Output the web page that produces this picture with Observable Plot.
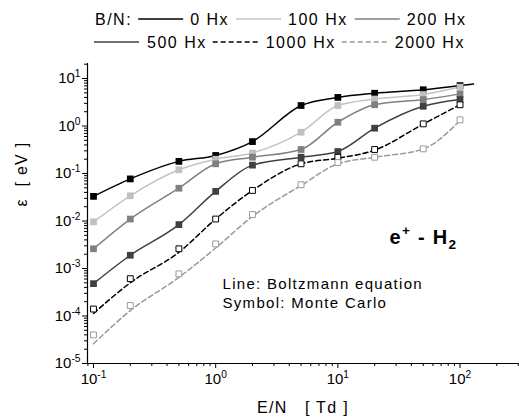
<!DOCTYPE html>
<html><head><meta charset="utf-8">
<script src="https://cdn.jsdelivr.net/npm/d3@7"></script>
<script src="https://cdn.jsdelivr.net/npm/@observablehq/plot@0.6"></script>
<style>
body{margin:0;background:#fff;font-family:"Liberation Sans",Arial,sans-serif;}
#legend{display:block}
#chart svg{display:block}
#legend text{font-size:16px;letter-spacing:1.5px;fill:#000}
</style></head><body>
<svg id="legend" width="519" height="58"></svg>
<div id="chart"></div>
<script>
// ---------- data ----------
const EN = [0.1, 0.2, 0.5, 1, 2, 5, 10, 20, 50, 100];
const seriesNames = ["0 Hx", "100 Hx", "200 Hx", "500 Hx", "1000 Hx", "2000 Hx"];
const legendTitle = "B/N:";

// Monte Carlo (symbols), mean energy in eV
const mc0    = [0.033, 0.077, 0.18, 0.24, 0.47, 2.7, 4.0, 4.9, 5.8, 7.1];
const mc100  = [0.0096, 0.034, 0.12, 0.20, 0.27, 0.74, 2.7, 3.7, 4.6, 6.6];
const mc200  = [0.0026, 0.011, 0.049, 0.16, 0.22, 0.32, 1.2, 2.8, 3.6, 4.75];
const mc500  = [0.00048, 0.0019, 0.0084, 0.042, 0.15, 0.22, 0.29, 0.90, 2.6, 3.6];
const mc1000 = [1.4e-4, 6.1e-4, 0.0026, 0.011, 0.044, 0.16, 0.22, 0.32, 1.11, 2.8];
const mc2000 = [4.0e-5, 1.66e-4, 7.7e-4, 0.0033, 0.0137, 0.058, 0.17, 0.22, 0.33, 1.35];

// Boltzmann equation (lines)
const beEN0  = [0.1, 0.2, 0.5, 1, 2, 5, 10, 20, 50, 100, 129];
const be0    = [0.033, 0.077, 0.18, 0.24, 0.47, 2.7, 4.0, 4.9, 5.8, 7.1, 7.7];
const be100  = [0.0096, 0.034, 0.12, 0.20, 0.27, 0.74, 2.7, 3.7, 4.6, 6.6];
const be200  = [0.0026, 0.011, 0.049, 0.16, 0.22, 0.32, 1.2, 2.8, 3.6, 4.75];
const be500  = [0.00048, 0.0019, 0.0084, 0.042, 0.15, 0.22, 0.29, 0.90, 2.6, 3.6];
const be1000 = [1.13e-4, 5.0e-4, 0.0022, 0.011, 0.044, 0.16, 0.21, 0.31, 1.1, 2.8];
const be2000 = [2.6e-5, 1.3e-4, 6.5e-4, 0.0027, 0.0125, 0.056, 0.16, 0.22, 0.33, 1.3];

const xTickValues = [0.1, 1, 10, 100];
const yTickValues = [1e-5, 1e-4, 1e-3, 1e-2, 1e-1, 1, 10];
const xLabel = "E/N\u00a0\u00a0\u00a0[ Td ]";
const yLabel = "\u03b5\u00a0\u00a0[ eV ]";
const noteLine = "Line: Boltzmann equation";
const noteSymbol = "Symbol: Monte Carlo";
const systemLabel = "e^{+} - H_{2}";

// ---------- styles ----------
const styles = [
  {stroke: "#000000", dash: null, fill: "#000000", open: false},
  {stroke: "#c4c4c4", dash: null, fill: "#c0c0c0", open: false},
  {stroke: "#808080", dash: null, fill: "#808080", open: false},
  {stroke: "#404040", dash: null, fill: "#404040", open: false},
  {stroke: "#000000", dash: "5,3", fill: "#ffffff", open: true},
  {stroke: "#9a9a9a", dash: "5,3", fill: "#ffffff", open: true}
];

// ---------- tables ----------
const mcSeries = [mc0, mc100, mc200, mc500, mc1000, mc2000];
const beSeries = [be0, be100, be200, be500, be1000, be2000];
const beXs = [beEN0, EN, EN, EN, EN, EN];
const lineTables = beSeries.map((ys, i) => ys.map((y, j) => ({series: seriesNames[i], x: beXs[i][j], y})));
const dotTables = mcSeries.map((ys, i) => ys.map((y, j) => ({series: seriesNames[i], x: EN[j], y})));

const xDomain = [0.0893, 301];
const yDomain = [1e-5, 20.7];
const minor = (decades, lo, hi) => decades.flatMap(d => [2,3,4,5,6,7,8,9].map(k => d * k)).filter(v => v >= lo && v <= hi);
const xMinor = minor([0.01, 0.1, 1, 10, 100], xDomain[0], xDomain[1]);
const yMinor = minor([1e-5, 1e-4, 1e-3, 1e-2, 1e-1, 1, 10], yDomain[0], yDomain[1]);
const expFmt = d => "10^{" + Math.round(Math.log10(d)) + "}";

const marks = [
  Plot.axisX(xMinor, {tickSize: 3, tickFormat: () => "", label: null}),
  Plot.axisX(xTickValues, {tickSize: 5, tickPadding: 5, tickFormat: expFmt, label: null, fontSize: 15}),
  Plot.axisY(yMinor, {tickSize: 3, tickFormat: () => "", label: null}),
  Plot.axisY(yTickValues, {tickSize: 5, tickPadding: 2, tickFormat: expFmt, label: null, fontSize: 15}),
  Plot.ruleX([xDomain[0]], {stroke: "#000", strokeWidth: 1.2}),
  Plot.ruleY([yDomain[0]], {stroke: "#000", strokeWidth: 1.2}),
  ...lineTables.map((t, i) => Plot.line(t, {x: "x", y: "y", stroke: styles[i].stroke, strokeWidth: 1.5,
      strokeDasharray: styles[i].dash, curve: "monotone-x"})),
  ...dotTables.map((t, i) => Plot.dot(t, {x: "x", y: "y", symbol: "square",
      r: styles[i].open ? 3.3 : 3.8,
      fill: styles[i].fill, stroke: styles[i].open ? styles[i].stroke : "none", strokeWidth: 1})),
  Plot.text([xLabel], {frameAnchor: "bottom", dy: 49, fontSize: 16, fill: "#000"}),
  Plot.text([yLabel], {frameAnchor: "left", dx: -66, dy: -7, rotate: -90, fontSize: 16, fill: "#000"}),
  Plot.text([noteLine], {frameAnchor: "top-left", textAnchor: "start", dx: 135, dy: 215, fontSize: 15, fill: "#000"}),
  Plot.text([noteSymbol], {frameAnchor: "top-left", textAnchor: "start", dx: 135, dy: 234, fontSize: 15, fill: "#000"}),
  Plot.text([systemLabel], {frameAnchor: "top-left", textAnchor: "start", dx: 302, dy: 166, fontSize: 20, fontWeight: "bold", fill: "#000"})
];

const plot = Plot.plot({
  width: 519, height: 361,
  marginLeft: 87, marginRight: 1, marginTop: 5, marginBottom: 56,
  x: {type: "log", domain: xDomain},
  y: {type: "log", domain: yDomain},
  style: {fontFamily: "'Liberation Sans', Arial, sans-serif", fontSize: "15px", color: "#000", background: "#fff", overflow: "visible"},
  marks
});
document.getElementById("chart").appendChild(plot);

// rich text: ^{..} superscripts, _{..} subscripts
function richify(el) {
  const t = el.textContent;
  if (!/[\^_]\{/.test(t)) return;
  const base = parseFloat(getComputedStyle(el).fontSize) || 15;
  const parts = t.split(/([\^_]\{[^}]*\})/).filter(s => s.length);
  el.textContent = "";
  let shift = 0;
  for (const p of parts) {
    const m = p.match(/^([\^_])\{(.*)\}$/);
    const ts = document.createElementNS("http://www.w3.org/2000/svg", "tspan");
    let target = 0;
    if (m) {
      ts.textContent = m[2];
      ts.setAttribute("font-size", (base * 0.68).toFixed(1));
      target = m[1] === "^" ? -base * 0.42 : base * 0.25;
    } else {
      ts.textContent = p;
    }
    ts.setAttribute("dy", (target - shift).toFixed(1));
    shift = target;
    el.appendChild(ts);
  }
}
d3.select(plot).selectAll("text").each(function() { richify(this); });
d3.select(plot).selectAll("g[aria-label=text] text").style("letter-spacing", "1.3px");

// ---------- legend ----------
const leg = d3.select("#legend");
function addText(x, y, s) {
  const t = leg.append("text").attr("x", x).attr("y", y).text(s);
  return x + t.node().getComputedTextLength();
}
function addLine(x, y, i) {
  leg.append("line").attr("x1", x).attr("x2", x + 45).attr("y1", y).attr("y2", y)
    .attr("stroke", styles[i].stroke).attr("stroke-width", 1.5)
    .attr("stroke-dasharray", styles[i].dash);
  return x + 45;
}
let lx = addText(95, 25, legendTitle) + 6;
for (let i = 0; i < 3; i++) { lx = addLine(lx, 19, i) + 7; lx = addText(lx, 25, seriesNames[i]) + 7; }
lx = 94;
for (let i = 3; i < 6; i++) { lx = addLine(lx, 42, i) + 8; lx = addText(lx, 48, seriesNames[i]) + 6; }
</script></body></html>
